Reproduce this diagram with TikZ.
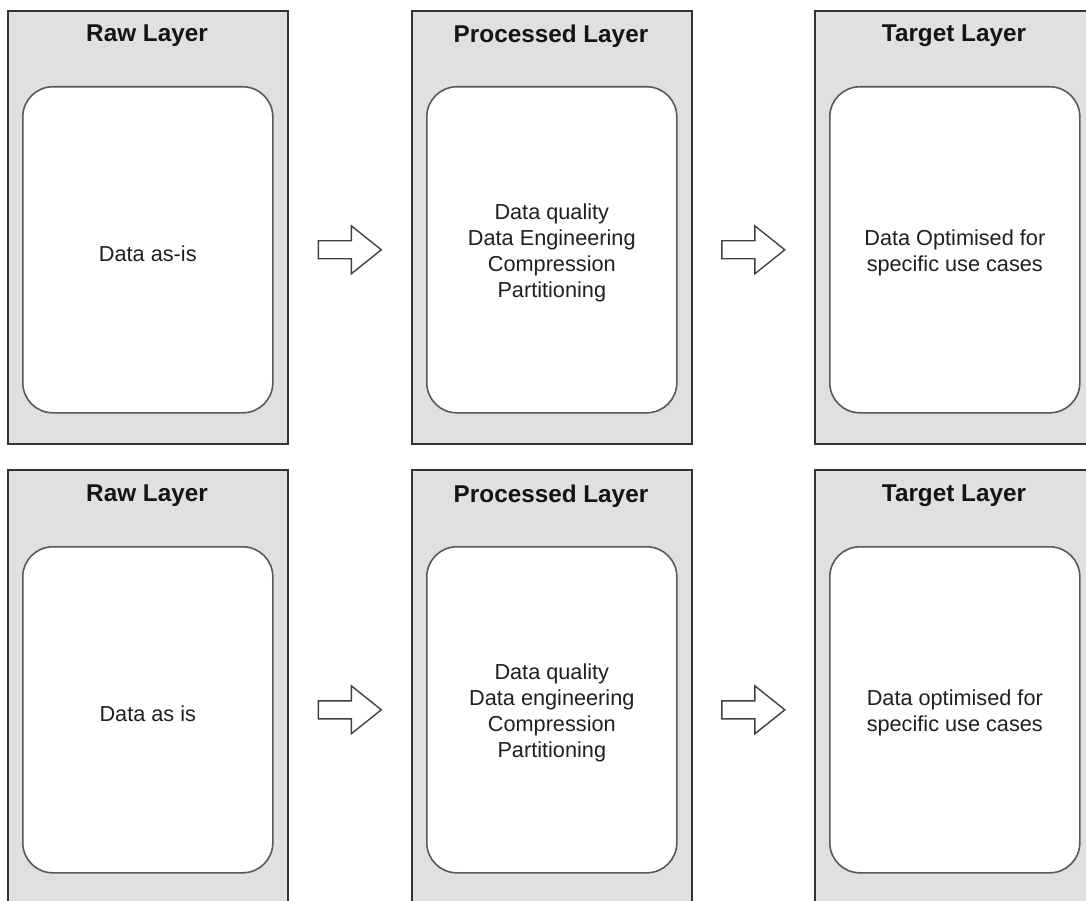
\documentclass[tikz,border=0pt]{standalone}
\usepackage{fontspec}
\setmainfont{Liberation Sans}
\usetikzlibrary{calc}
\begin{document}
\begin{tikzpicture}[x=1pt,y=-1pt,
  layer/.style={draw=black!80, line width=1.6pt, fill=black!12, minimum width=280pt, minimum height=433pt, anchor=north west, inner sep=0pt},
  stage/.style={draw=black!65, line width=1.6pt, fill=white, rounded corners=30pt, minimum width=250pt, minimum height=326pt, anchor=north west, inner sep=0pt},
  body/.style={align=center, inner sep=0pt, font=\fontsize{21.7}{26}\selectfont, text=black!88},
  title/.style={font=\bfseries\fontsize{24.3}{28}\selectfont, text=black!92},
  flow/.style={draw=black!75, line width=1.4pt, fill=white, line join=miter},
  blockarrow/.pic={\draw[flow] (-31.5,-9) -- (1.5,-9) -- (1.5,-24) -- (31.5,0) -- (1.5,24) -- (1.5,9) -- (-31.5,9) -- cycle;}]
\useasboundingbox (0,0) rectangle (1086,901);
\clip (0,0) rectangle (1086,901);
% top row
\node[layer] (rawA) at (7,10) {};
\node[layer] (procA) at (411,10) {};
\node[layer] (tgtA) at (814,10) {};
\node[title] (rawAt) at (147,36) {Raw Layer};
\node[title] (procAt) at (551,36) {Processed Layer};
\node[title] (tgtAt) at (954,36) {Target Layer};
\node[stage] (rawAi) at (22,86) {};
\node[stage] (procAi) at (426,86) {};
\node[stage] (tgtAi) at (829,86) {};
\node[body] (rawAx) at ($(rawAi.center)+(0,3.5)$) {Data as-is};
\node[body] (procAx) at ($(procAi.center)+(0,3.5)$) {Data quality\\Data Engineering\\Compression\\Partitioning};
\node[body] (tgtAx) at ($(tgtAi.center)+(0,3.5)$) {Data Optimised for\\specific use cases};
\pic at ($(rawAi.east)!0.5!(procAi.west)$) {blockarrow};
\pic at ($(procAi.east)!0.5!(tgtAi.west)$) {blockarrow};
% bottom row
\node[layer] (rawB) at (7,469) {};
\node[layer] (procB) at (411,469) {};
\node[layer] (tgtB) at (814,469) {};
\node[title] (rawBt) at (147,496) {Raw Layer};
\node[title] (procBt) at (551,496) {Processed Layer};
\node[title] (tgtBt) at (954,496) {Target Layer};
\node[stage] (rawBi) at (22,546) {};
\node[stage] (procBi) at (426,546) {};
\node[stage] (tgtBi) at (829,546) {};
\node[body] (rawBx) at ($(rawBi.center)+(0,3.5)$) {Data as is};
\node[body] (procBx) at ($(procBi.center)+(0,3.5)$) {Data quality\\Data engineering\\Compression\\Partitioning};
\node[body] (tgtBx) at ($(tgtBi.center)+(0,3.5)$) {Data optimised for\\specific use cases};
\pic at ($(rawBi.east)!0.5!(procBi.west)$) {blockarrow};
\pic at ($(procBi.east)!0.5!(tgtBi.west)$) {blockarrow};
\end{tikzpicture}
\end{document}
